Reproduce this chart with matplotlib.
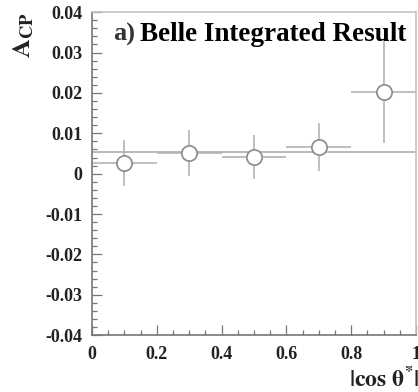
import numpy as np
import matplotlib
matplotlib.use("Agg")
import matplotlib.pyplot as plt
from matplotlib.ticker import MultipleLocator, FuncFormatter

plt.rcParams['font.family'] = ['Liberation Serif', 'DejaVu Serif']
plt.rcParams['font.weight'] = 'bold'
plt.rcParams['mathtext.fontset'] = 'stix'

# A_CP in bins of |cos theta*|
bin_center = [0.1, 0.3, 0.5, 0.7, 0.9]
bin_halfwidth = [0.1, 0.1, 0.1, 0.1, 0.1]
acp = [0.0026, 0.0051, 0.0041, 0.0066, 0.0203]
acp_err = [0.0057, 0.0056, 0.0054, 0.0060, 0.0128]
acp_integrated = 0.0054


def fmt_tick(v, pos):
    s = '%g' % round(v, 4)
    return s


fig = plt.figure(figsize=(4.18, 3.92), dpi=100)
ax = fig.add_axes([0.220, 0.145, 0.775, 0.824])

ax.axhline(acp_integrated, color='#b4b4b4', lw=1.3, zorder=1)
ax.errorbar(bin_center, acp, xerr=bin_halfwidth, yerr=acp_err, fmt='o',
            ms=11, mfc='white', mec='#8a8a8a', mew=1.2,
            ecolor='#b4b4b4', elinewidth=1.2, capsize=0, zorder=2)

ax.set_xlim(0, 1)
ax.set_ylim(-0.04, 0.04)
ax.xaxis.set_major_locator(MultipleLocator(0.2))
ax.xaxis.set_minor_locator(MultipleLocator(0.05))
ax.yaxis.set_major_locator(MultipleLocator(0.01))
ax.yaxis.set_minor_locator(MultipleLocator(0.002))
ax.xaxis.set_major_formatter(FuncFormatter(fmt_tick))
ax.yaxis.set_major_formatter(FuncFormatter(fmt_tick))
ax.tick_params(which='both', direction='in', colors='#777777', labelcolor='#222222',
               labelsize=13)
ax.tick_params(which='major', length=7, width=0.9)
ax.tick_params(which='minor', length=3.5, width=0.9)
ax.tick_params(axis='y', pad=7)
ax.tick_params(axis='x', pad=8)
for lbl in ax.get_xticklabels() + ax.get_yticklabels():
    lbl.set_fontweight('bold')

for side in ['left', 'bottom']:
    ax.spines[side].set_color('#777777')
for side in ['top', 'right']:
    ax.spines[side].set_color('#c4c4c4')
for s in ax.spines.values():
    s.set_linewidth(1.2)

ax.text(-0.21, 1.0, r'$\mathbf{A_{CP}}$', transform=ax.transAxes, rotation=90,
        ha='center', va='top', fontsize=19, color='#222222')
ax.text(1.01, -0.10, r'$\mathbf{|cos}\ \mathbf{\theta}^{*}\mathbf{|}$', transform=ax.transAxes,
        ha='right', va='top', fontsize=17, color='#222222')

ax.text(0.065, 0.93, 'a)', transform=ax.transAxes, ha='left', va='center',
        fontsize=19, fontweight='bold', color='#333333')
ax.text(0.148, 0.93, 'Belle Integrated Result', transform=ax.transAxes,
        ha='left', va='center', fontsize=19.5, fontweight='bold', color='black')

fig.savefig('out.png', dpi=100)
